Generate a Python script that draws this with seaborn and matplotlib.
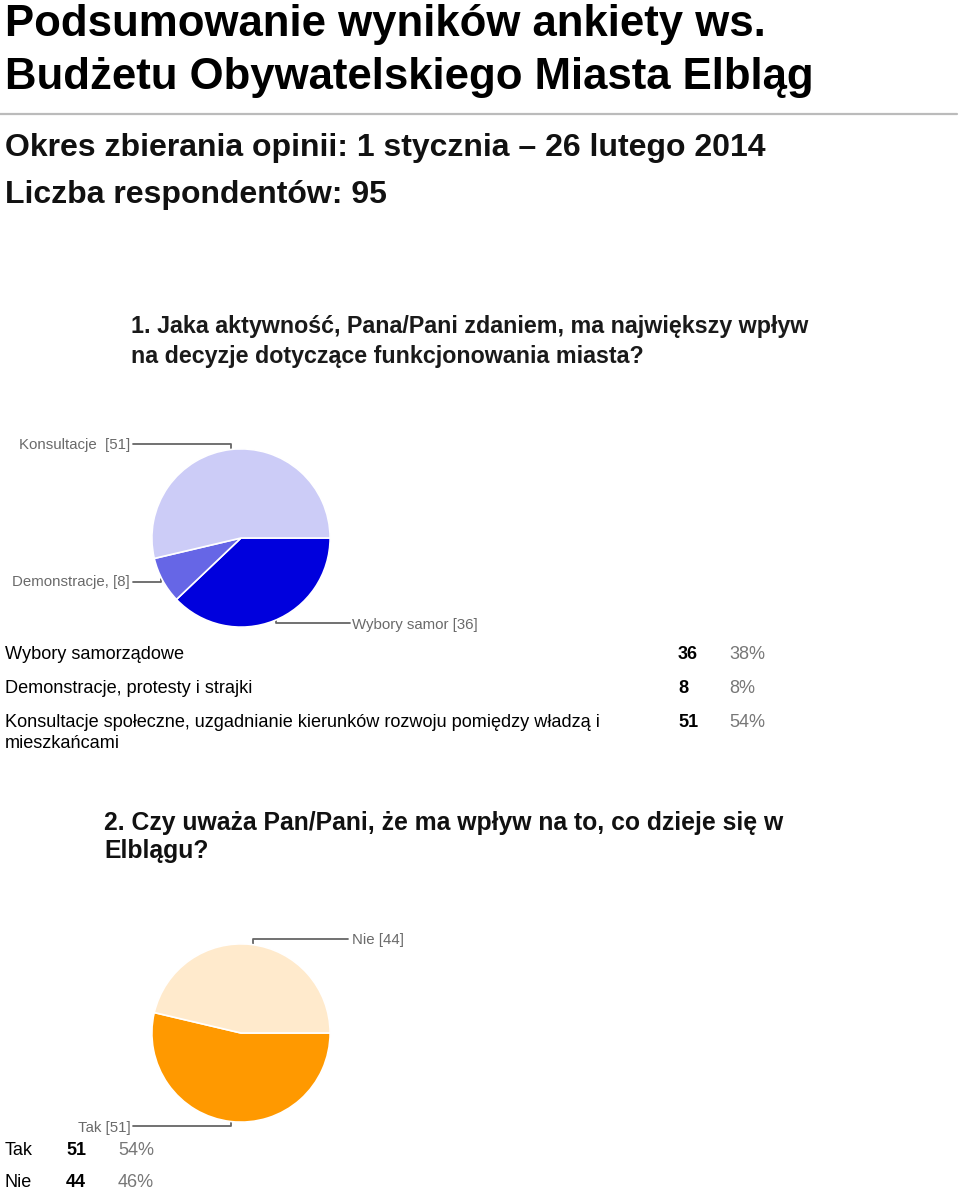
import matplotlib
matplotlib.use("Agg")
import matplotlib.pyplot as plt
import seaborn as sns

sns.set_theme(style="white")
plt.rcParams['font.family'] = ['Liberation Sans', 'DejaVu Sans']

# ---------------- data ----------------
q1_labels = ["Wybory samorządowe", "Demonstracje, protesty i strajki",
             "Konsultacje społeczne, uzgadnianie kierunków rozwoju pomiędzy władzą i\nmieszkańcami"]
q1_short = ["Wybory samor [36]", "Demonstracje, [8]", "Konsultacje  [51]"]
q1_counts = [36, 8, 51]
q1_pcts = ["38%", "8%", "54%"]
q1_colors = ["#0000dd", "#6666e6", "#ccccf7"]

q2_labels = ["Tak", "Nie"]
q2_short = ["Tak [51]", "Nie [44]"]
q2_counts = [51, 44]
q2_pcts = ["54%", "46%"]
q2_colors = ["#ff9900", "#ffeacc"]

W, H = 960, 1189
fig = plt.figure(figsize=(W / 100, H / 100), dpi=100)
fig.patch.set_facecolor("white")

bg = fig.add_axes([0, 0, 1, 1])
bg.set_xlim(0, W)
bg.set_ylim(H, 0)
bg.axis("off")

def px(size_px):
    return size_px * 72 / 100

# titles
bg.text(5, 36, "Podsumowanie wyników ankiety ws.", fontsize=px(43.8), fontweight="bold", va="baseline", color="black")
bg.text(5, 89, "Budżetu Obywatelskiego Miasta Elbląg", fontsize=px(43.8), fontweight="bold", va="baseline", color="black")
bg.plot([0, 957], [114, 114], color="#bbbbbb", lw=1.6)
bg.text(5, 156, "Okres zbierania opinii: 1 stycznia – 26 lutego 2014", fontsize=px(32), fontweight="bold", va="baseline", color="#111111")
bg.text(5, 203, "Liczba respondentów: 95", fontsize=px(32), fontweight="bold", va="baseline", color="#111111")

# question 1
bg.text(131, 333, "1. Jaka aktywność, Pana/Pani zdaniem, ma największy wpływ", fontsize=px(23.3), fontweight="bold", va="baseline", color="#1a1a1a")
bg.text(131, 363, "na decyzje dotyczące funkcjonowania miasta?", fontsize=px(23.3), fontweight="bold", va="baseline", color="#1a1a1a")

def pie_axes(cx, cy, r):
    return fig.add_axes([(cx - r) / W, (H - cy - r) / H, 2 * r / W, 2 * r / H])

ax1 = pie_axes(241, 538, 90)
ax1.pie(q1_counts, colors=q1_colors, startangle=0, counterclock=False,
        wedgeprops=dict(edgecolor="white", linewidth=1.2))
ax1.set_xlim(-1.01, 1.01); ax1.set_ylim(-1.01, 1.01)
ax1.axis("off")

lab_col = "#6a6a6a"
line_col = "#666666"
fs_lab = px(15)
# leader lines & labels (pie 1)
bg.plot([133, 231, 231], [444, 444, 449], color=line_col, lw=1.3)
bg.text(130, 445, q1_short[2], fontsize=fs_lab, color=lab_col, ha="right", va="center")
bg.plot([133, 161, 161], [582, 582, 579], color=line_col, lw=1.3)
bg.text(130, 582, q1_short[1], fontsize=fs_lab, color=lab_col, ha="right", va="center")
bg.plot([276, 276, 350], [620, 623, 623], color=line_col, lw=1.3)
bg.text(352, 625, q1_short[0], fontsize=fs_lab, color=lab_col, ha="left", va="center")

# table 1
rows_y = [659, 693, 727]
fs_tab = px(18.2)
for lab, cnt, pct, y in zip(q1_labels, q1_counts, q1_pcts, rows_y):
    for k, part in enumerate(lab.split("\n")):
        bg.text(5, y + k * 20.5, part, fontsize=fs_tab, va="baseline", color="black")
    bg.text(678, y, str(cnt), fontsize=fs_tab, fontweight="bold", va="baseline", color="black")
    bg.text(729, y, pct, fontsize=fs_tab, va="baseline", color="#777777")

# question 2
bg.text(104, 830, "2. Czy uważa Pan/Pani, że ma wpływ na to, co dzieje się w", fontsize=px(24.8), fontweight="bold", va="baseline", color="#111111")
bg.text(104, 858, "Elblągu?", fontsize=px(24.8), fontweight="bold", va="baseline", color="#111111")

ax2 = pie_axes(241, 1033, 90)
ax2.pie(q2_counts, colors=q2_colors, startangle=0, counterclock=False,
        wedgeprops=dict(edgecolor="white", linewidth=1.2))
ax2.set_xlim(-1.01, 1.01); ax2.set_ylim(-1.01, 1.01)
ax2.axis("off")

bg.plot([253, 253, 348], [945, 939, 939], color=line_col, lw=1.3)
bg.text(352, 940, q2_short[1], fontsize=fs_lab, color=lab_col, ha="left", va="center")
bg.plot([133, 231, 231], [1126, 1126, 1121], color=line_col, lw=1.3)
bg.text(131, 1128, q2_short[0], fontsize=fs_lab, color=lab_col, ha="right", va="center")

# table 2
rows2_y = [1155, 1187]
for lab, cnt, pct, y in zip(q2_labels, q2_counts, q2_pcts, rows2_y):
    bg.text(5, y, lab, fontsize=px(18), va="baseline", color="black")
    bg.text(66, y, str(cnt), fontsize=px(18), fontweight="bold", va="baseline", color="black")
    bg.text(118, y, pct, fontsize=px(18), va="baseline", color="#777777")

fig.savefig("out.png", dpi=100, facecolor="white")
